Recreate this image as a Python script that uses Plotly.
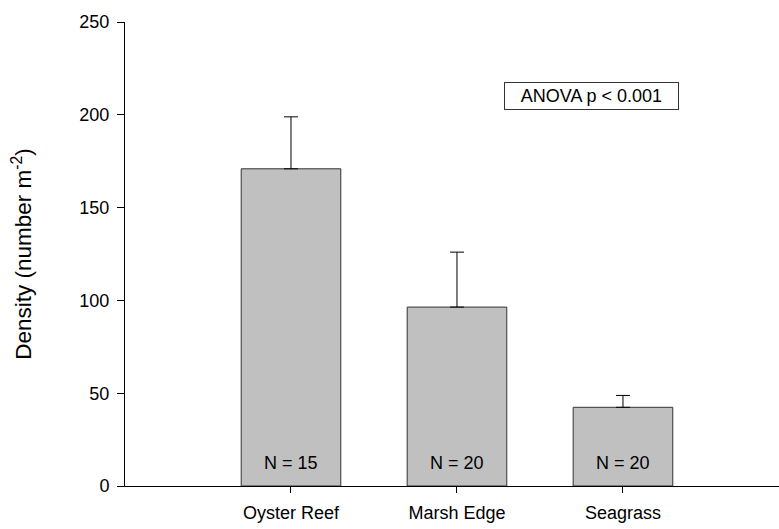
import plotly.graph_objects as go

categories = ["Oyster Reef", "Marsh Edge", "Seagrass"]
density = [170.9, 96.4, 42.4]
error_upper = [28.0, 29.6, 6.4]
n_labels = ["N = 15", "N = 20", "N = 20"]
y_ticks = [0, 50, 100, 150, 200, 250]

FONT = "Arial, 'Liberation Sans', sans-serif"
FS = 18

fig = go.Figure()
fig.add_trace(go.Bar(
    x=categories, y=density, width=0.6,
    marker=dict(color="#c0c0c0", line=dict(color="#333333", width=1)),
    error_y=dict(type="data", symmetric=False, array=error_upper,
                 arrayminus=[0] * len(error_upper),
                 color="black", thickness=1, width=7),
    showlegend=False,
))

for c, t in zip(categories, n_labels):
    fig.add_annotation(x=c, y=12.5, text=t, showarrow=False,
                       xref="x", yref="y", xanchor="center", yanchor="middle",
                       font=dict(family=FONT, size=FS, color="black"))

fig.add_annotation(x=0.713, y=210, xref="paper", yref="y",
                   xanchor="center", yanchor="middle",
                   text="ANOVA p < 0.001", showarrow=False,
                   width=171, height=24, bordercolor="#333333", borderwidth=1,
                   bgcolor="white",
                   font=dict(family=FONT, size=FS, color="black"))

fig.update_layout(
    width=779, height=529,
    margin=dict(l=125, r=0, t=22, b=43),
    plot_bgcolor="white", paper_bgcolor="white",
    font=dict(family=FONT, size=FS, color="black"),
    bargap=0.4,
)
fig.update_xaxes(
    type="category", range=[-1, 2.94],
    showline=True, linecolor="black", linewidth=1,
    ticks="outside", ticklen=6, tickcolor="black", tickwidth=1,
    ticklabelstandoff=4,
    showgrid=False, zeroline=False,
    tickfont=dict(family=FONT, size=FS, color="black"),
)
fig.update_yaxes(
    range=[0, 250], tickvals=y_ticks,
    showline=True, linecolor="black", linewidth=1,
    ticks="outside", ticklen=7, tickcolor="black", tickwidth=1,
    ticklabelstandoff=4,
    showgrid=False, zeroline=False,
    tickfont=dict(family=FONT, size=FS, color="black"),
    title=dict(text="Density (number m<sup>-2</sup>)", standoff=41,
               font=dict(family=FONT, size=22.5, color="black")),
)

fig.write_html("out.html")
